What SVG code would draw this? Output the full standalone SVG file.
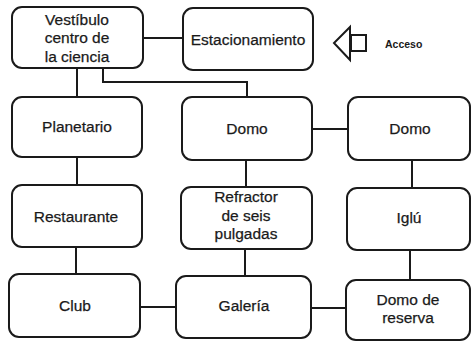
<svg xmlns="http://www.w3.org/2000/svg" width="473" height="343" viewBox="0 0 473 343">
<style>
.box{fill:#fff;stroke:#1a1a1a;stroke-width:2}
.t{font-family:"Liberation Sans",Arial,sans-serif;font-size:15.5px;fill:#1a1a1a;stroke:#1a1a1a;stroke-width:0.25;text-anchor:middle}
.c{fill:none;stroke:#1a1a1a;stroke-width:2}
</style>
<rect width="473" height="343" fill="#fff"/>
<g id="connectors">
<path class="c" d="M143 38H183"/>
<path class="c" d="M77 68V97"/>
<path class="c" d="M103 68V82H247V97"/>
<path class="c" d="M312 129H348"/>
<path class="c" d="M77 157V185"/>
<path class="c" d="M246 160V187"/>
<path class="c" d="M412 160V188"/>
<path class="c" d="M76 247V274"/>
<path class="c" d="M245 249V276"/>
<path class="c" d="M410 250V280"/>
<path class="c" d="M140 307H176"/>
<path class="c" d="M311 308H346"/>
</g>
<g id="vestibulo">
<rect class="box" x="12" y="7" width="131" height="61" rx="10"/>
<text class="t" x="77" y="25">Vestíbulo</text>
<text class="t" x="77" y="43">centro de</text>
<text class="t" x="77" y="62">la ciencia</text>
</g>
<g id="estacionamiento">
<rect class="box" x="183" y="8" width="130" height="62" rx="10"/>
<text class="t" x="248" y="45">Estacionamiento</text>
</g>
<g id="acceso">
<path class="c" stroke-width="1.5" d="M350 27L334 43L350 60Z"/>
<rect class="c" stroke-width="1.5" x="351" y="35" width="15" height="16"/>
<text x="385" y="48" font-family="Liberation Sans,Arial,sans-serif" font-size="10.5" font-weight="bold" fill="#1a1a1a">Acceso</text>
</g>
<g id="planetario">
<rect class="box" x="12" y="97" width="130" height="60" rx="10"/>
<text class="t" x="77" y="132">Planetario</text>
</g>
<g id="domo1">
<rect class="box" x="182" y="97" width="130" height="63" rx="10"/>
<text class="t" x="247" y="134">Domo</text>
</g>
<g id="domo2">
<rect class="box" x="348" y="97" width="122" height="63" rx="10"/>
<text class="t" x="410" y="134">Domo</text>
</g>
<g id="restaurante">
<rect class="box" x="12" y="185" width="130" height="62" rx="10"/>
<text class="t" x="76" y="222">Restaurante</text>
</g>
<g id="refractor">
<rect class="box" x="181" y="187" width="131" height="62" rx="10"/>
<text class="t" x="246" y="202">Refractor</text>
<text class="t" x="246" y="221">de seis</text>
<text class="t" x="246" y="239">pulgadas</text>
</g>
<g id="iglu">
<rect class="box" x="347" y="188" width="123" height="62" rx="10"/>
<text class="t" x="409" y="223">Iglú</text>
</g>
<g id="club">
<rect class="box" x="9" y="274" width="131" height="63" rx="10"/>
<text class="t" x="75" y="311">Club</text>
</g>
<g id="galeria">
<rect class="box" x="176" y="276" width="135" height="62" rx="10"/>
<text class="t" x="244" y="311">Galería</text>
</g>
<g id="domo-reserva">
<rect class="box" x="346" y="280" width="124" height="60" rx="10"/>
<text class="t" x="408" y="305">Domo de</text>
<text class="t" x="408" y="323">reserva</text>
</g>
</svg>
